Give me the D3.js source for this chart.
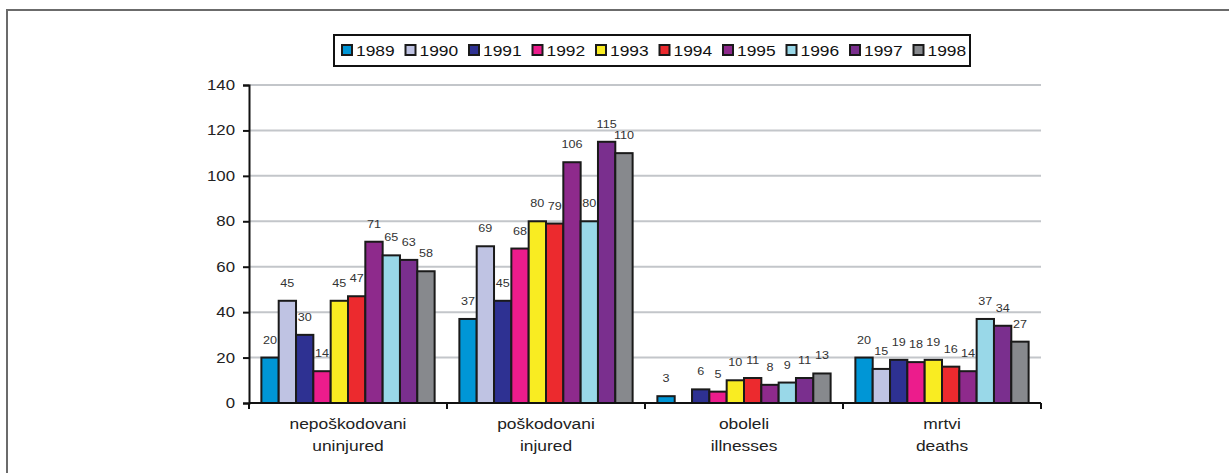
<!DOCTYPE html>
<html lang="sl">
<head>
  <meta charset="UTF-8">
  <title>Nepoškodovani, poškodovani, oboleli, mrtvi 1989–1998</title>
  <script src="https://d3js.org/d3.v7.min.js"></script>
  <style>
    body { margin: 0; background: #fff; }
    svg { display: block; font-family: "Liberation Sans", Arial, sans-serif; }
  </style>
</head>
<body>
<script>
// categories (two-line labels) and years
const categories = ["nepoškodovani", "poškodovani", "oboleli", "mrtvi"];
const categoriesEn = ["uninjured", "injured", "illnesses", "deaths"];
const years = ["1989", "1990", "1991", "1992", "1993", "1994", "1995", "1996", "1997", "1998"];

// values per category, one entry per year (null = no bar)
const uninjured = [20, 45, 30, 14, 45, 47, 71, 65, 63, 58];
const injured   = [37, 69, 45, 68, 80, 79, 106, 80, 115, 110];
const illnesses = [3, null, 6, 5, 10, 11, 8, 9, 11, 13];
const deaths    = [20, 15, 19, 18, 19, 16, 14, 37, 34, 27];

const yTicks = [0, 20, 40, 60, 80, 100, 120, 140];

const colors = ["#0096d6", "#bfc3e3", "#2e3192", "#ec1c8c", "#f9ec22",
                "#ec2a2e", "#8e2a8c", "#99d8e8", "#7a2f8e", "#87898d"];

const series = [uninjured, injured, illnesses, deaths];

const width = 1229, height = 473;
const margin = {left: 249, right: 188, top: 85, bottom: 70};
const sx = 1.2; // the original lettering is a bit wide

const svg = d3.select("body").append("svg")
  .attr("width", width)
  .attr("height", height);

// outer frame (top and left edges only)
svg.append("line")
  .attr("x1", 6).attr("x2", width).attr("y1", 10).attr("y2", 10)
  .attr("stroke", "#6b6b6b").attr("stroke-width", 2);
svg.append("line")
  .attr("x1", 7).attr("x2", 7).attr("y1", 10).attr("y2", height)
  .attr("stroke", "#6b6b6b").attr("stroke-width", 2);

const x0 = d3.scaleBand()
  .domain(categories)
  .range([margin.left, width - margin.right])
  .paddingInner(0.125)
  .paddingOuter(0.0625);

const x1 = d3.scaleBand()
  .domain(years)
  .range([0, x0.bandwidth()]);

const y = d3.scaleLinear()
  .domain([0, 140])
  .range([height - margin.bottom, margin.top]);

// gridlines
svg.append("g")
  .selectAll("line")
  .data(yTicks.filter(d => d > 0))
  .join("line")
  .attr("x1", margin.left).attr("x2", width - margin.right)
  .attr("y1", d => y(d)).attr("y2", d => y(d))
  .attr("stroke", "#c3c6ca").attr("stroke-width", 2);

// bars
const groups = svg.append("g")
  .selectAll("g")
  .data(categories)
  .join("g")
  .attr("transform", d => `translate(${x0(d)},0)`);

groups.selectAll("rect")
  .data((d, i) => series[i].map((v, j) => ({year: years[j], value: v, color: colors[j]})).filter(e => e.value != null))
  .join("rect")
  .attr("x", d => x1(d.year))
  .attr("y", d => y(d.value))
  .attr("width", x1.bandwidth())
  .attr("height", d => y(0) - y(d.value))
  .attr("fill", d => d.color)
  .attr("stroke", "#1a1a1a")
  .attr("stroke-width", 2);

groups.selectAll("text")
  .data((d, i) => series[i].map((v, j) => ({year: years[j], value: v})).filter(e => e.value != null))
  .join("text")
  .attr("transform", d => `translate(${x1(d.year) + x1.bandwidth() / 2},${y(d.value) - 14}) scale(${sx},1)`)
  .attr("text-anchor", "middle")
  .attr("font-size", 10.5)
  .attr("fill", "#333")
  .text(d => d.value);

// y axis
const yAxis = svg.append("g")
  .attr("transform", `translate(${margin.left},0)`)
  .call(d3.axisLeft(y).tickValues(yTicks).tickSize(6).tickPadding(8));
yAxis.select(".domain").attr("stroke", "#111").attr("stroke-width", 2);
yAxis.selectAll(".tick line").attr("stroke", "#111").attr("stroke-width", 2);
yAxis.selectAll(".tick text")
  .attr("x", -14 / sx)
  .attr("transform", `scale(${sx},1)`)
  .attr("font-size", 14).attr("fill", "#222")
  .attr("font-family", "Liberation Sans, Arial, sans-serif");

// x axis: line with ticks at category boundaries
const xAxisG = svg.append("g");
xAxisG.append("line")
  .attr("x1", margin.left).attr("x2", width - margin.right)
  .attr("y1", y(0)).attr("y2", y(0))
  .attr("stroke", "#111").attr("stroke-width", 2);
const bounds = categories.map(c => x0(c) - x0.step() * x0.paddingOuter());
bounds.push(width - margin.right);
xAxisG.selectAll(".xt")
  .data(bounds)
  .join("line")
  .attr("class", "xt")
  .attr("x1", d => d).attr("x2", d => d)
  .attr("y1", y(0)).attr("y2", y(0) + 6)
  .attr("stroke", "#111").attr("stroke-width", 2);

const catLabels = xAxisG.selectAll(".cl")
  .data(categories)
  .join("text")
  .attr("class", "cl")
  .attr("transform", d => `translate(${x0(d) + x0.bandwidth() / 2},${y(0)}) scale(${sx},1)`)
  .attr("text-anchor", "middle")
  .attr("font-size", 14.5)
  .attr("fill", "#222");
catLabels.append("tspan")
  .attr("x", 0)
  .attr("y", 26)
  .text(d => d);
catLabels.append("tspan")
  .attr("x", 0)
  .attr("y", 48)
  .text((d, i) => categoriesEn[i]);

// legend
const legend = svg.append("g");
legend.append("rect")
  .attr("x", 334).attr("y", 35)
  .attr("width", 636).attr("height", 31)
  .attr("fill", "#fff").attr("stroke", "#111").attr("stroke-width", 2);
const item = legend.selectAll(".li")
  .data(years)
  .join("g")
  .attr("class", "li")
  .attr("transform", (d, i) => `translate(${342 + i * 63.5},0)`);
item.append("rect")
  .attr("x", 0).attr("y", 45)
  .attr("width", 10).attr("height", 10)
  .attr("fill", (d, i) => colors[i])
  .attr("stroke", "#1a1a1a").attr("stroke-width", 2);
item.append("text")
  .attr("transform", `translate(14,56) scale(${sx},1)`)
  .attr("font-size", 14.5)
  .attr("fill", "#111")
  .text(d => d);
</script>
</body>
</html>
